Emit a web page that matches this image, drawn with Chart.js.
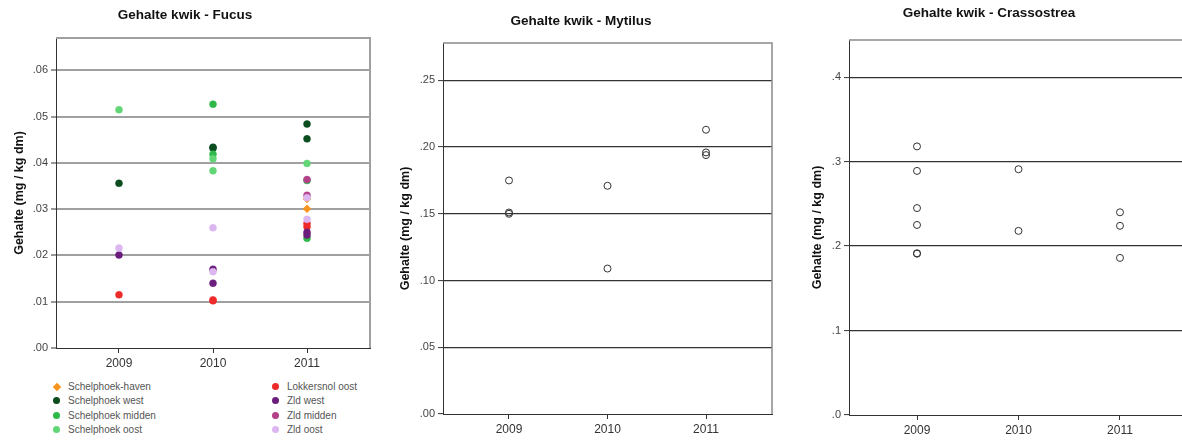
<!DOCTYPE html>
<html>
<head>
<meta charset="utf-8">
<script src="https://cdn.jsdelivr.net/npm/chart.js@4"></script>
<style>
  body { margin: 0; background: #fff; width: 1182px; height: 443px; overflow: hidden; position: relative; font-family: "Liberation Sans", Arial, sans-serif; }
  canvas { position: absolute; top: 0; }
  #fucus { left: 0; }
  #mytilus { left: 390px; }
  #crassostrea { left: 790px; }
  .leg { position: absolute; font-size: 10px; color: #555; line-height: 12px; white-space: nowrap; }
  .leg i { position: absolute; left: -15px; top: 2px; width: 7px; height: 7px; border-radius: 50%; }
  .leg i.diamond { border-radius: 0; width: 6px; height: 6px; transform: rotate(45deg); left: -14px; top: 3px; }
</style>
</head>
<body>
<canvas id="fucus" width="386" height="372"></canvas>
<canvas id="mytilus" width="393" height="443"></canvas>
<canvas id="crassostrea" width="420" height="443"></canvas>
<div id="legend"></div>
<script>
// Fucus: [year, mg/kg dm] per station
const fucusStations = ['Schelphoek-haven', 'Schelphoek west', 'Schelphoek midden', 'Schelphoek oost',
  'Lokkersnol oost', 'Zld west', 'Zld midden', 'Zld oost'];
const fucusHaven = [[2011, 0.0301], [2011, 0.0322]];
const fucusWest = [[2009, 0.0356], [2010, 0.0432], [2010, 0.0434], [2011, 0.0484], [2011, 0.0452]];
const fucusMidden = [[2010, 0.0527], [2010, 0.0419], [2011, 0.0362], [2011, 0.0237]];
const fucusOost = [[2009, 0.0515], [2010, 0.0409], [2010, 0.0383], [2011, 0.0399]];
const fucusLokkersnol = [[2009, 0.0115], [2010, 0.0102], [2010, 0.0104], [2011, 0.0269], [2011, 0.0262]];
const fucusZldWest = [[2009, 0.0201], [2010, 0.0170], [2010, 0.0140], [2011, 0.0250], [2011, 0.0244]];
const fucusZldMidden = [[2011, 0.0364], [2011, 0.0330]];
const fucusZldOost = [[2009, 0.0216], [2010, 0.0260], [2010, 0.0165], [2011, 0.0325], [2011, 0.0278]];
const fucusColors = ['#f7941d', '#0b4d1f', '#2fb84a', '#62d677', '#ee2a2a', '#6b1d7c', '#b5408a', '#dcb6f0'];

// Mytilus
const mytilusYears = [2009, 2009, 2009, 2010, 2010, 2011, 2011, 2011];
const mytilusValues = [0.175, 0.151, 0.150, 0.171, 0.109, 0.213, 0.196, 0.194];

// Crassostrea
const crassYears = [2009, 2009, 2009, 2009, 2009, 2009, 2010, 2010, 2011, 2011, 2011];
const crassValues = [0.318, 0.289, 0.245, 0.225, 0.191, 0.1915, 0.291, 0.218, 0.240, 0.224, 0.186];

const years = [2009, 2010, 2011];
const fucusTicks = [0, 0.01, 0.02, 0.03, 0.04, 0.05, 0.06];
const mytilusTicks = [0, 0.05, 0.10, 0.15, 0.20, 0.25];
const crassTicks = [0, 0.1, 0.2, 0.3, 0.4];

const FONT = '"Liberation Sans", Arial, sans-serif';

// top + right border of the plot box
const framePlugin = {
    id: 'frame',
    afterDraw: function(chart, args, opts) {
        const a = chart.chartArea;
        const ctx = chart.ctx;
        ctx.save();
        ctx.strokeStyle = opts.color || '#999';
        ctx.lineWidth = opts.width || 1.5;
        ctx.beginPath();
        ctx.moveTo(a.left, a.top);
        ctx.lineTo(a.right, a.top);
        ctx.lineTo(a.right, a.bottom);
        ctx.stroke();
        ctx.restore();
    }
};

function makeChart(id, datasets, cfg) {
    return new Chart(document.getElementById(id), {
        type: 'scatter',
        data: { datasets: datasets },
        plugins: [framePlugin],
        options: {
            responsive: false,
            animation: false,
            layout: { padding: { left: 0, right: cfg.padRight, top: 0, bottom: 0 } },
            plugins: {
                legend: { display: false },
                tooltip: { enabled: false },
                frame: { color: cfg.frameColor, width: cfg.frameWidth },
                title: {
                    display: true,
                    text: cfg.title,
                    color: '#111',
                    font: { family: FONT, size: 13.5, weight: 'bold' },
                    padding: { top: cfg.titleTop, bottom: cfg.titleBottom }
                }
            },
            scales: {
                x: {
                    type: 'linear',
                    min: years[0] - 0.67,
                    max: years[years.length - 1] + 0.67,
                    afterBuildTicks: function(s) { s.ticks = years.map(v => ({ value: v })); },
                    afterFit: function(s) { s.height = cfg.xHeight; },
                    ticks: {
                        includeBounds: false,
                        color: '#333',
                        padding: 3,
                        font: { family: FONT, size: 12 },
                        callback: v => String(v)
                    },
                    grid: { drawOnChartArea: false, drawTicks: true, tickLength: 5, tickColor: '#333', tickWidth: 1 },
                    border: { color: '#333', width: 1 }
                },
                y: {
                    min: 0,
                    max: cfg.yMax,
                    afterBuildTicks: function(s) { s.ticks = cfg.yTicks.map(v => ({ value: v })); },
                    afterFit: function(s) { s.width = cfg.yWidth; },
                    ticks: {
                        includeBounds: false,
                        color: '#444',
                        padding: 3,
                        font: { family: FONT, size: 11 },
                        callback: v => v.toFixed(cfg.decimals).replace(/^0\./, '.')
                    },
                    grid: {
                        // the zero line is the x axis border already
                        color: c => (c.tick && c.tick.value === 0) ? 'rgba(0,0,0,0)' : cfg.gridColor,
                        lineWidth: cfg.gridWidth,
                        tickLength: 5, tickColor: '#333', tickWidth: 1
                    },
                    border: { color: '#333', width: 1 },
                    title: {
                        display: true,
                        text: 'Gehalte (mg / kg dm)',
                        color: '#111',
                        font: { family: FONT, size: 12.5, weight: 'bold' },
                        padding: { top: cfg.yTitlePad, bottom: 0 }
                    }
                }
            }
        }
    });
}

// Fucus
const fucusSeries = [fucusHaven, fucusWest, fucusMidden, fucusOost, fucusLokkersnol, fucusZldWest, fucusZldMidden, fucusZldOost];
const fucusSets = fucusSeries.map(function(s, i) {
    return {
        label: fucusStations[i],
        data: s.map(p => ({ x: p[0], y: p[1] })),
        pointStyle: i === 0 ? 'rectRot' : 'circle',
        pointRadius: i === 0 ? 4 : 3.5,
        backgroundColor: fucusColors[i],
        borderColor: fucusColors[i],
        borderWidth: 0.5,
        order: fucusSeries.length - 1 - i
    };
});
makeChart('fucus', fucusSets, {
    title: 'Gehalte kwik - Fucus', titleTop: 6.9, titleBottom: 14.9,
    padRight: 16, xHeight: 24, yWidth: 56, yTitlePad: 12.5,
    yMax: 0.067, yTicks: fucusTicks, decimals: 2,
    gridColor: '#a0a0a0', gridWidth: 2, frameColor: '#a0a0a0', frameWidth: 2
});

// Mytilus
makeChart('mytilus', [{
    label: 'Mytilus',
    data: mytilusYears.map((x, i) => ({ x: x, y: mytilusValues[i] })),
    pointRadius: 3.5,
    backgroundColor: 'transparent',
    borderColor: '#333',
    borderWidth: 1
}], {
    title: 'Gehalte kwik - Mytilus', titleTop: 13.6, titleBottom: 13.2,
    padRight: 11, xHeight: 29, yWidth: 53, yTitlePad: 8.5,
    yMax: 0.278, yTicks: mytilusTicks, decimals: 2,
    gridColor: '#333', gridWidth: 1.2, frameColor: '#8a8a8a', frameWidth: 1.5
});

// Crassostrea
makeChart('crassostrea', [{
    label: 'Crassostrea',
    data: crassYears.map((x, i) => ({ x: x, y: crassValues[i] })),
    pointRadius: 3.5,
    backgroundColor: 'transparent',
    borderColor: '#333',
    borderWidth: 1
}], {
    title: 'Gehalte kwik - Crassostrea', titleTop: 5.2, titleBottom: 18.6,
    padRight: 22, xHeight: 28, yWidth: 59, yTitlePad: 20.5,
    yMax: 0.444, yTicks: crassTicks, decimals: 1,
    gridColor: '#333', gridWidth: 1.2, frameColor: '#8a8a8a', frameWidth: 1.5
});

// Fucus legend, two columns of four
const legend = document.getElementById('legend');
fucusStations.forEach(function(name, i) {
    const col = Math.floor(i / 4), row = i % 4;
    const el = document.createElement('div');
    el.className = 'leg';
    el.style.left = (col === 0 ? 68 : 287) + 'px';
    el.style.top = (381 + row * 14.3) + 'px';
    const m = document.createElement('i');
    if (i === 0) m.className = 'diamond';
    m.style.background = fucusColors[i];
    el.appendChild(m);
    el.appendChild(document.createTextNode(name));
    legend.appendChild(el);
});
</script>
</body>
</html>
